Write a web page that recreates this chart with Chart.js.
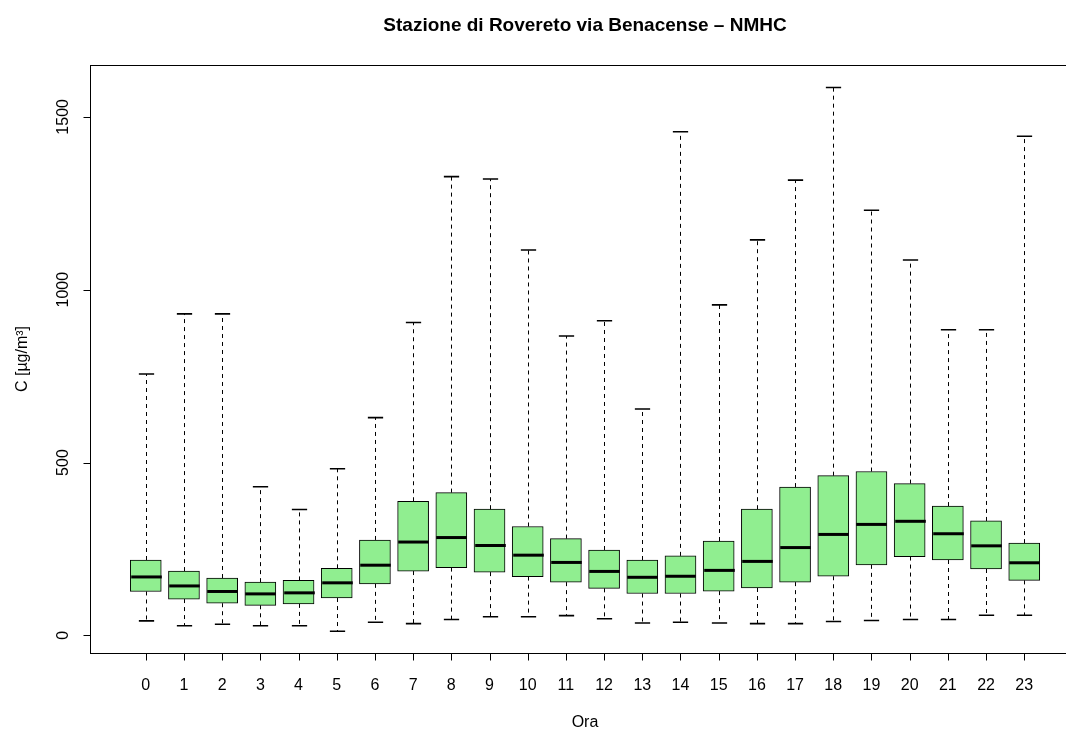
<!DOCTYPE html>
<html>
<head>
<meta charset="utf-8">
<script src="https://cdn.jsdelivr.net/npm/chart.js@4.4.1/dist/chart.umd.min.js"></script>
<style>
  html, body { margin: 0; padding: 0; background: #ffffff; overflow: hidden; width: 1066px; height: 731px; }
  #wrap { position: absolute; left: 0; top: 0; width: 1100px; height: 731px; }
</style>
</head>
<body>
<div id="wrap"><canvas id="c" width="1100" height="731"></canvas></div>
<script>
// ---- data ----
const hours = ['0','1','2','3','4','5','6','7','8','9','10','11','12','13','14','15','16','17','18','19','20','21','22','23'];
const whiskerLow = [42, 28, 32, 28, 28, 12, 38, 34, 46, 54, 54, 57, 48, 36, 38, 36, 34, 34, 40, 43, 46, 46, 58, 58];
const q1         = [127, 105, 93, 87, 91, 108, 149, 186, 196, 183, 170, 154, 136, 121, 121, 128, 137, 154, 171, 204, 228, 218, 192, 159];
const median     = [169, 143, 127, 120, 123, 152, 203, 270, 283, 260, 232, 211, 185, 168, 171, 188, 214, 254, 292, 321, 330, 294, 259, 210];
const q3         = [218, 186, 166, 154, 159, 194, 276, 388, 413, 365, 315, 280, 247, 218, 230, 273, 365, 429, 462, 474, 439, 374, 331, 267];
const whiskerHigh= [756, 930, 930, 430, 364, 482, 630, 905, 1327, 1320, 1115, 866, 910, 655, 1457, 956, 1144, 1317, 1585, 1230, 1086, 884, 884, 1444];
const yTicks = [0, 500, 1000, 1500];
const titleText = 'Stazione di Rovereto via Benacense \u2013 NMHC';
const xTitle = 'Ora';
const yTitle = 'C [\u00b5g/m\u00b3]';

const FONT = '"Liberation Sans", Arial, Helvetica, sans-serif';

const boxData = hours.map((h, i) => ({ x: i, y: [q1[i], q3[i]] }));

const rBoxPlugin = {
  id: 'rBox',
  afterDatasetsDraw(chart) {
    const ctx = chart.ctx;
    const xs = chart.scales.x, ys = chart.scales.y;
    const ca = chart.chartArea;
    const unit = xs.getPixelForValue(1) - xs.getPixelForValue(0);
    const halfCap = 0.2 * unit;
    const halfBox = 0.4 * unit;
    ctx.save();
    for (let i = 0; i < hours.length; i++) {
      const px = Math.round(xs.getPixelForValue(i)) + 0.5;
      const yLo = ys.getPixelForValue(whiskerLow[i]);
      const yQ1 = ys.getPixelForValue(q1[i]);
      const yQ3 = ys.getPixelForValue(q3[i]);
      const yHi = ys.getPixelForValue(whiskerHigh[i]);
      const yMed = ys.getPixelForValue(median[i]);
      // dashed whiskers
      ctx.strokeStyle = '#000';
      ctx.lineWidth = 1;
      ctx.setLineDash([4, 4]);
      ctx.beginPath();
      ctx.moveTo(px, yQ3); ctx.lineTo(px, yHi);
      ctx.moveTo(px, yQ1); ctx.lineTo(px, yLo);
      ctx.stroke();
      ctx.setLineDash([]);
      // caps
      ctx.lineWidth = 1.6;
      ctx.beginPath();
      ctx.moveTo(px - halfCap, yHi); ctx.lineTo(px + halfCap, yHi);
      ctx.moveTo(px - halfCap, yLo); ctx.lineTo(px + halfCap, yLo);
      ctx.stroke();
      // median
      ctx.lineWidth = 3;
      ctx.beginPath();
      ctx.moveTo(px - halfBox, yMed); ctx.lineTo(px + halfBox, yMed);
      ctx.stroke();
    }
    // frame
    ctx.lineWidth = 1;
    ctx.strokeStyle = '#000';
    ctx.strokeRect(Math.round(ca.left) + 0.5, Math.round(ca.top) + 0.5, Math.round(ca.right - ca.left), Math.round(ca.bottom - ca.top));
    // y axis ticks + labels
    ctx.fillStyle = '#000';
    ctx.font = '16px ' + FONT;
    const axX = Math.round(ca.left) + 0.5;
    ctx.beginPath();
    ctx.moveTo(axX, ys.getPixelForValue(yTicks[0]));
    ctx.lineTo(axX, ys.getPixelForValue(yTicks[yTicks.length - 1]));
    yTicks.forEach(v => {
      const py = Math.round(ys.getPixelForValue(v)) + 0.5;
      ctx.moveTo(axX, py); ctx.lineTo(axX - 7, py);
    });
    ctx.stroke();
    yTicks.forEach(v => {
      const py = ys.getPixelForValue(v);
      ctx.save();
      ctx.translate(68, py);
      ctx.rotate(-Math.PI / 2);
      ctx.textAlign = 'center';
      ctx.textBaseline = 'alphabetic';
      ctx.fillText(String(v), 0, 0);
      ctx.restore();
    });
    // x axis ticks + labels
    const axY = Math.round(ca.bottom) + 0.5;
    ctx.beginPath();
    ctx.moveTo(xs.getPixelForValue(0), axY);
    ctx.lineTo(xs.getPixelForValue(hours.length - 1), axY);
    hours.forEach((h, i) => {
      const px = Math.round(xs.getPixelForValue(i)) + 0.5;
      ctx.moveTo(px, axY); ctx.lineTo(px, axY + 7);
    });
    ctx.stroke();
    ctx.textAlign = 'center';
    ctx.textBaseline = 'alphabetic';
    hours.forEach((h, i) => {
      ctx.fillText(h, xs.getPixelForValue(i), 690);
    });
    // axis titles
    ctx.fillText(xTitle, (ca.left + ca.right) / 2, 727);
    ctx.save();
    ctx.translate(27, (ca.top + ca.bottom) / 2);
    ctx.rotate(-Math.PI / 2);
    ctx.fillText(yTitle, 0, 0);
    ctx.restore();
    // main title
    ctx.font = 'bold 19px ' + FONT;
    ctx.fillText(titleText, (ca.left + ca.right) / 2, 31);
    ctx.restore();
  }
};

new Chart(document.getElementById('c'), {
  type: 'bar',
  data: {
    datasets: [{
      data: boxData,
      backgroundColor: '#90EE90',
      borderColor: '#000000',
      borderWidth: 1,
      borderSkipped: false,
      barThickness: 31,
      grouped: false
    }]
  },
  options: {
    responsive: false,
    animation: false,
    events: [],
    layout: { padding: { left: 90, top: 65, right: 20, bottom: 78 } },
    plugins: { legend: { display: false }, tooltip: { enabled: false }, title: { display: false } },
    scales: {
      x: { type: 'linear', min: -1.46, max: 24.46, display: false, offset: false },
      y: { type: 'linear', min: -51, max: 1650, display: false }
    }
  },
  plugins: [rBoxPlugin]
});
</script>
</body>
</html>
